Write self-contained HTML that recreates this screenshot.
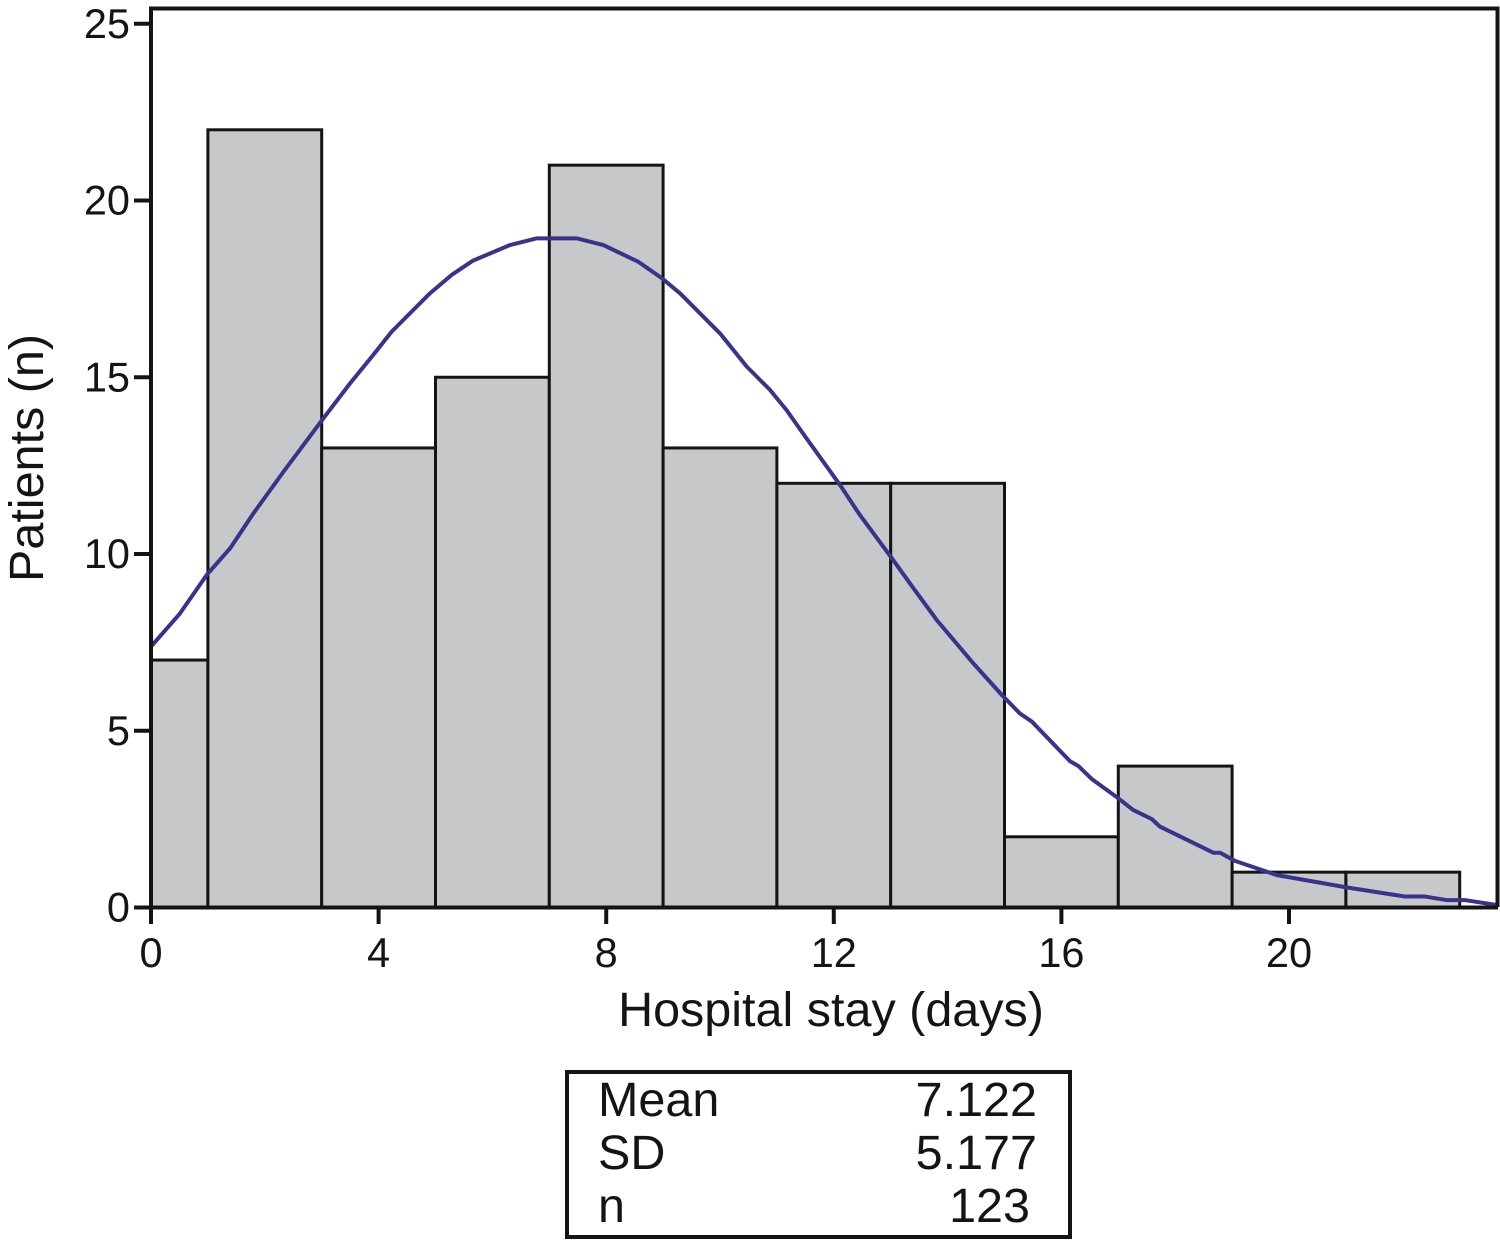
<!DOCTYPE html>
<html lang="en">
<head>
<meta charset="utf-8">
<title>Hospital stay histogram</title>
<style>
html,body{margin:0;padding:0;background:#fff}
svg{display:block;font-family:"Liberation Sans",Arial,sans-serif}
text{fill:#141414}
</style>
</head>
<body>
<svg id="chart" width="1500" height="1240" viewBox="0 0 1500 1240" xmlns="http://www.w3.org/2000/svg">
  <g id="bars"></g>
  <g id="curve"></g>
  <g id="axes"></g>
  <text x="831" y="1026" font-size="48.5" text-anchor="middle">Hospital stay (days)</text>
  <text transform="translate(43,458) rotate(-90)" font-size="48.5" text-anchor="middle">Patients (n)</text>
  <g>
    <rect x="567" y="1072" width="503" height="165" fill="#fff" stroke="#141414" stroke-width="4"/>
    <text x="598" y="1116" font-size="48.5">Mean</text>
    <text x="1037" y="1116" font-size="48.5" text-anchor="end">7.122</text>
    <text x="598" y="1169" font-size="48.5">SD</text>
    <text x="1037" y="1169" font-size="48.5" text-anchor="end">5.177</text>
    <text x="598" y="1222" font-size="48.5">n</text>
    <text x="1030" y="1222" font-size="48.5" text-anchor="end">123</text>
  </g>
</svg>
<script>
const binEdges = [0, 1, 3, 5, 7, 9, 11, 13, 15, 17, 19, 21, 23];
const binCounts = [7, 22, 13, 15, 21, 13, 12, 12, 2, 4, 1, 1];
const curveDays = [0.01, 0.51, 0.98, 1.39, 1.80, 2.33, 2.97, 3.50, 3.88, 4.23, 4.90, 5.28, 5.66, 6.31, 6.78, 7.48, 7.95, 8.56, 8.98, 9.30, 10.0, 10.47, 10.88, 11.17, 11.52, 12.11, 12.46, 13.02, 13.40, 13.81, 14.45, 14.96, 15.27, 15.48, 16.15, 16.30, 16.53, 17.0, 17.26, 17.59, 17.73, 18.67, 18.79, 19.05, 19.78, 21.01, 22.04, 22.39, 22.77, 23.09, 23.65];
const curveValues = [7.40, 8.32, 9.41, 10.16, 11.15, 12.33, 13.71, 14.83, 15.58, 16.29, 17.37, 17.89, 18.30, 18.74, 18.93, 18.93, 18.74, 18.27, 17.80, 17.37, 16.24, 15.30, 14.64, 14.07, 13.27, 11.95, 11.10, 9.88, 9.03, 8.13, 6.91, 6.0, 5.49, 5.26, 4.14, 4.00, 3.64, 3.09, 2.76, 2.50, 2.29, 1.55, 1.55, 1.32, 0.92, 0.57, 0.31, 0.31, 0.21, 0.21, 0.07];
const xTicks = [0, 4, 8, 12, 16, 20];
const yTicks = [0, 5, 10, 15, 20, 25];

const NS = 'http://www.w3.org/2000/svg';
const ink = '#141414';
function sx(v){ return 151 + v * 56.9; }
function sy(v){ return 907.5 - v * 35.35; }
function mk(tag, parent, attrs){
  const el = document.createElementNS(NS, tag);
  for (const k in attrs) el.setAttribute(k, attrs[k]);
  parent.appendChild(el);
  return el;
}
const barsG = document.getElementById('bars');
binCounts.forEach((c, i) => {
  const r = mk('rect', barsG, {x: sx(binEdges[i]), y: sy(c), width: sx(binEdges[i+1]) - sx(binEdges[i]), height: sy(0) - sy(c), fill: '#c6c8ca', stroke: ink, 'stroke-width': 3});
  
  
});
const axesG = document.getElementById('axes');
const frame = mk('path', axesG, {d: 'M151 907V8.5H1497.5V907', fill: 'none', stroke: ink, 'stroke-width': 4});


const base = mk('line', axesG, {x1: 134, x2: 1498, y1: sy(0), y2: sy(0), stroke: ink, 'stroke-width': 4});


xTicks.forEach(t => {
  const l = mk('line', axesG, {x1: sx(t), x2: sx(t), y1: sy(0), y2: 924, stroke: ink, 'stroke-width': 4});
  
  
  const tx = mk('text', axesG, {x: sx(t), y: 967, 'font-size': 41.5, 'text-anchor': 'middle'});
  tx.textContent = t;
  
  
});
yTicks.forEach(t => {
  const l = mk('line', axesG, {x1: 134, x2: 151, y1: sy(t), y2: sy(t), stroke: ink, 'stroke-width': 4});
  
  
  const tx = mk('text', axesG, {x: 130, y: sy(t) + 14, 'font-size': 41.5, 'text-anchor': 'end'});
  tx.textContent = t;
  
  
});
const curveG = document.getElementById('curve');
const pts = curveDays.map((x, i) => sx(x) + ',' + sy(curveValues[i])).join(' ');
const line = mk('polyline', curveG, {points: pts, fill: 'none', stroke: '#38348b', 'stroke-width': 4, 'stroke-linejoin': 'round'});


</script>
</body>
</html>
